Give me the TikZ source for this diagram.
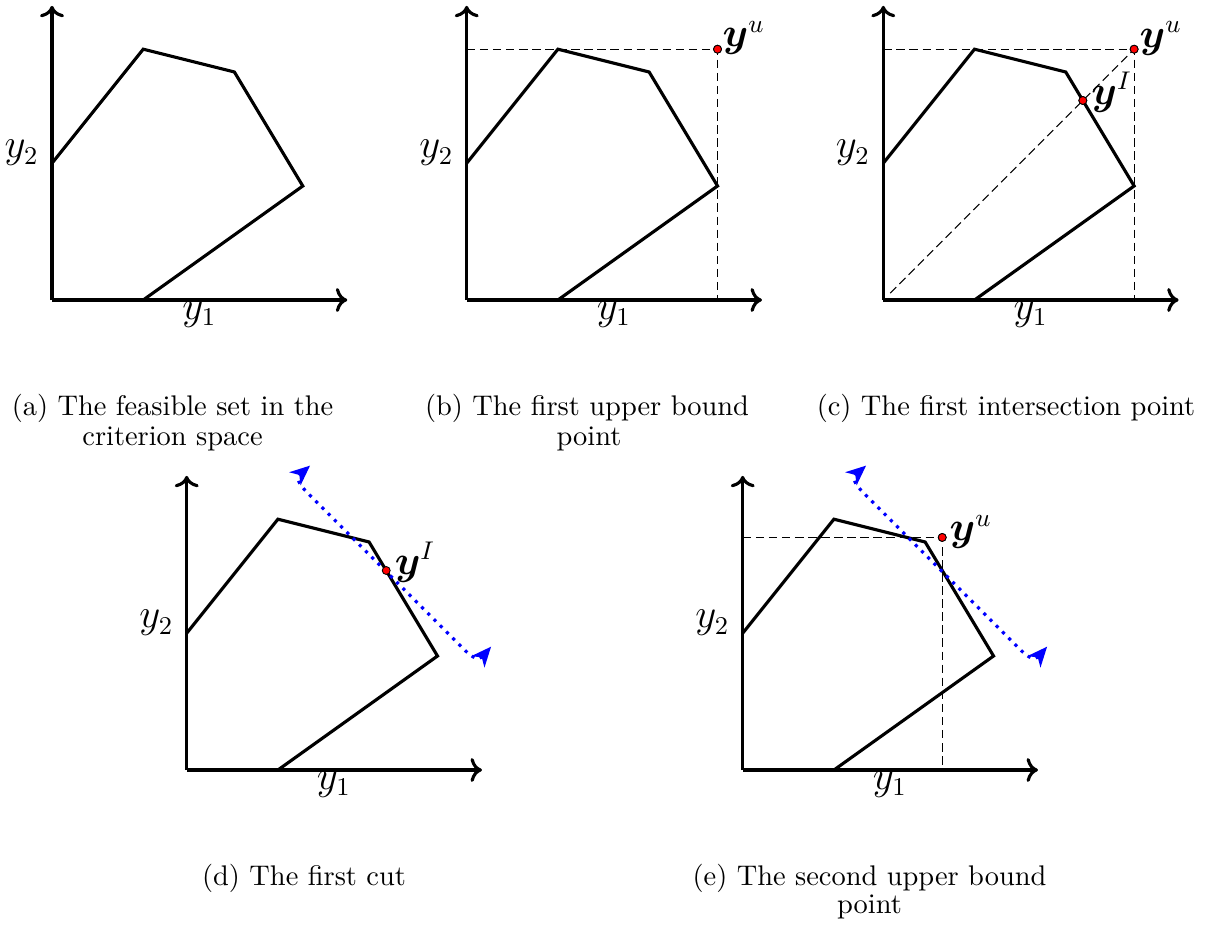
\documentclass[tikz,border=0pt]{standalone}
\usepackage{amsmath}
\usetikzlibrary{arrows.meta}
\tikzset{
  poly/.style={line width=1.1pt},
  axisline/.style={line width=1.1pt,->},
  guide/.style={line width=0.4pt,dash pattern=on 3pt off 1.6pt},
  cutline/.style={blue,dotted,line width=1.1pt,{Stealth[length=7pt,width=6pt,inset=2pt]}-{Stealth[length=7pt,width=6pt,inset=2pt]}},
  lbl/.style={inner sep=0pt,font=\fontsize{13.5}{16}\selectfont},
  ptlbl/.style={inner sep=0pt,anchor=base west,font=\fontsize{13.5}{16}\selectfont},
  capt/.style={inner sep=0pt,anchor=base,font=\fontsize{10}{10}\selectfont},
  dot/.style={circle,draw=black,line width=0.3pt,fill=red,inner sep=0pt,minimum size=2.8pt}
}
\newcommand{\feasibleset}[1]{%
  \coordinate (#1o) at (0,0);
  \coordinate (#1xe) at (12.95,0);
  \coordinate (#1ye) at (0,12.9);
  \coordinate (#1v1) at (0,6);
  \coordinate (#1v2) at (4,11);
  \coordinate (#1v3) at (8,10);
  \coordinate (#1v4) at (11,5);
  \coordinate (#1v5) at (4,0);
  \draw[axisline] (#1o) -- (#1xe);
  \draw[axisline] (#1o) -- (#1ye);
  \draw[poly] (#1v1) -- (#1v2) -- (#1v3) -- (#1v4) -- (#1v5);
  \node[lbl,anchor=base] (#1ya) at (6.46,-0.86) {$y_1$};
  \node[lbl,anchor=base east] (#1yb) at (-0.56,6.23) {$y_2$};
}
\newcommand{\cutpath}[1]{%
  \coordinate (#1cb) at (13.35,5.41);
  \coordinate (#1c1) at (12.1,5.35);
  \coordinate (#1c2) at (5.35,12.1);
  \coordinate (#1ct) at (5.41,13.35);
  \draw[cutline] (#1cb) .. controls +(229:0.85) and +(-45:0.6) .. (#1c1)
     -- (#1c2) .. controls +(135:0.6) and +(221:0.85) .. (#1ct);
}
\begin{document}
\begin{tikzpicture}[x=0.352pt,y=-0.352pt]
\useasboundingbox (0,0) rectangle (1210,930);

% (a)
\begin{scope}[shift={(52,300)},x=8.026pt,y=8.026pt]
  \feasibleset{a}
\end{scope}

% (b)
\begin{scope}[shift={(466.7,300)},x=8.026pt,y=8.026pt]
  \feasibleset{b}
  \coordinate (bl) at (0,11);
  \coordinate (bb) at (11,0);
  \node[dot] (bu) at (11,11) {};
  \draw[guide] (bl) -- (bu.center) -- (bb);
  \node[dot] at (bu) {};
  \node[ptlbl] (bul) at (11.2,11.1) {$\boldsymbol{y}^u$};
\end{scope}

% (c)
\begin{scope}[shift={(883.3,300)},x=8.026pt,y=8.026pt]
  \feasibleset{c}
  \coordinate (cl) at (0,11);
  \coordinate (cb) at (11,0);
  \coordinate (cs) at (0.3,0.3);
  \node[dot] (cu) at (11,11) {};
  \node[dot] (ci) at (8.75,8.75) {};
  \draw[guide] (cl) -- (cu.center) -- (cb);
  \draw[guide] (cs) -- (cu.center);
  \node[dot] at (cu) {};
  \node[dot] at (ci) {};
  \node[ptlbl] (cul) at (11.22,11.09) {$\boldsymbol{y}^u$};
  \node[ptlbl] (cil) at (9.1,8.56) {$\boldsymbol{y}^I$};
\end{scope}

% (d)
\begin{scope}[shift={(186.7,770)},x=8.026pt,y=8.026pt]
  \feasibleset{d}
  \cutpath{d}
  \node[dot] (di) at (8.75,8.75) {};
  \node[ptlbl] (dil) at (9.1,8.56) {$\boldsymbol{y}^I$};
\end{scope}

% (e)
\begin{scope}[shift={(742.7,770)},x=8.026pt,y=8.026pt]
  \feasibleset{e}
  \coordinate (el) at (0,10.2);
  \coordinate (eb) at (8.75,0);
  \node[dot] (eu) at (8.75,10.2) {};
  \draw[guide] (el) -- (eu.center) -- (eb);
  \cutpath{e}
  \node[dot] at (eu) {};
  \node[ptlbl] (eul) at (9.05,10.05) {$\boldsymbol{y}^u$};
\end{scope}

% captions
\node[capt] (capa1) at (172.5,415) {(a) The feasible set in the};
\node[capt] (capa2) at (172.5,445) {criterion space};
\node[capt] (capb1) at (587,415) {(b) The first upper bound};
\node[capt] (capb2) at (589,445) {point};
\node[capt] (capc1) at (1006,415) {(c) The first intersection point};
\node[capt] (capd1) at (304,885) {(d) The first cut};
\node[capt] (cape1) at (869.5,885) {(e) The second upper bound};
\node[capt] (cape2) at (869.5,913) {point};
\end{tikzpicture}
\end{document}
